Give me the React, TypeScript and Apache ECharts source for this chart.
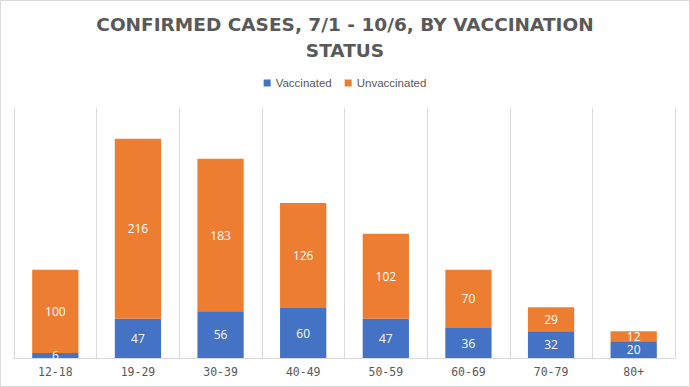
import React, { useEffect, useRef } from "react";
import * as echarts from "echarts";

const categories = ["12-18", "19-29", "30-39", "40-49", "50-59", "60-69", "70-79", "80+"];
const vaccinated = [6, 47, 56, 60, 47, 36, 32, 20];
const unvaccinated = [100, 216, 183, 126, 102, 70, 29, 12];

export default function App() {
  const ref = useRef<HTMLDivElement>(null);
  useEffect(() => {
    if (!ref.current) return;
    const chart = echarts.init(ref.current, null, { renderer: "svg" });
    const label = {
      show: true,
      position: "inside",
      color: "#ffffff",
      fontSize: 12,
      lineHeight: 10,
      fontFamily: "Open Sans",
    };
    chart.setOption({
      animation: false,
      backgroundColor: "#ffffff",
      graphic: [
        {
          type: "rect",
          shape: { x: 0.5, y: 0.5, width: 689, height: 386 },
          style: { fill: "none", stroke: "#d9d9d9", lineWidth: 1 },
          silent: true,
        },
      ],
      title: {
        text: "CONFIRMED CASES, 7/1 - 10/6, BY VACCINATION\nSTATUS",
        left: "center",
        top: 6,
        textStyle: {
          color: "#595959",
          fontSize: 18.5,
          fontWeight: "bold",
          fontFamily: "DejaVu Sans",
          lineHeight: 26,
        },
      },
      legend: {
        top: 72,
        left: "center",
        itemWidth: 7,
        itemHeight: 7,
        itemGap: 13,
        icon: "rect",
        textStyle: { color: "#595959", fontSize: 11.5, fontFamily: "Liberation Sans" },
        data: ["Vaccinated", "Unvaccinated"],
      },
      grid: { left: 14, right: 15, top: 108, bottom: 29 },
      xAxis: {
        type: "category",
        data: categories,
        axisLine: { lineStyle: { color: "#d9d9d9" } },
        axisTick: { show: false },
        splitLine: { show: true, lineStyle: { color: "#d9d9d9" } },
        axisLabel: {
          color: "#595959",
          fontSize: 11.5,
          fontFamily: "DejaVu Sans Mono",
          margin: 8,
        },
      },
      yAxis: {
        type: "value",
        min: 0,
        max: 300,
        show: false,
        splitLine: { show: false },
      },
      series: [
        {
          name: "Vaccinated",
          type: "bar",
          stack: "total",
          data: vaccinated,
          itemStyle: { color: "#4472c4" },
          barCategoryGap: "44%",
          label,
        },
        {
          name: "Unvaccinated",
          type: "bar",
          stack: "total",
          data: unvaccinated,
          itemStyle: { color: "#ed7d31" },
          barCategoryGap: "44%",
          label,
        },
      ],
    });
    return () => chart.dispose();
  }, []);
  return (
    <div
      ref={ref}
      style={{ position: "fixed", left: 0, top: 0, width: 690, height: 387 }}
    />
  );
}
